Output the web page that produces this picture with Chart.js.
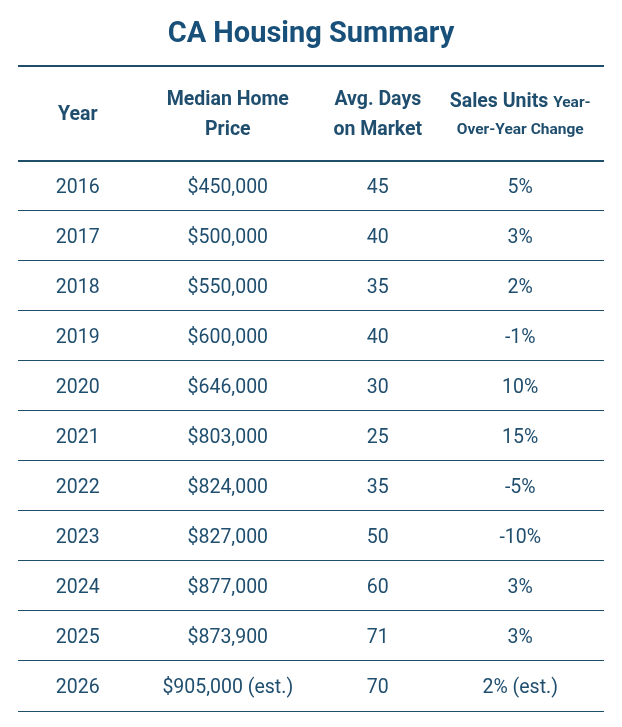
<!DOCTYPE html>
<html>
<head>
<meta charset="utf-8">
<script src="https://cdn.jsdelivr.net/npm/chart.js@4.4.1/dist/chart.umd.min.js"></script>
<style>
  html, body { margin: 0; padding: 0; background: #ffffff; }
  #wrap { width: 622px; height: 727px; }
</style>
</head>
<body>
<div id="wrap"><canvas id="table"></canvas></div>
<script>
// table data
const years = ["2016", "2017", "2018", "2019", "2020", "2021", "2022", "2023", "2024", "2025", "2026"];
const medianPrice = [450000, 500000, 550000, 600000, 646000, 803000, 824000, 827000, 877000, 873900, 905000];
const daysOnMarket = [45, 40, 35, 40, 30, 25, 35, 50, 60, 71, 70];
const salesChange = [5, 3, 2, -1, 10, 15, -5, -10, 3, 3, 2];
const estimated = [false, false, false, false, false, false, false, false, false, false, true];

const headerLabels = [["Year"], ["Median Home", "Price"], ["Avg. Days", "on Market"], ["Sales Units", "Over-Year Change"]];
const columnCenters = [0.102, 0.358, 0.614, 0.857];

const headerSpan = 1.9; // header row is taller than body rows
const TEXT = "#1f4e6e";
const LINE = "#1f4e6b";

const rowCenter = (i) => headerSpan + i + 0.5;
const boundaries = [0, headerSpan].concat(years.map((y, i) => headerSpan + i + 1));

const est = (i) => (estimated[i] ? " (est.)" : "");
const cellText = [
  years.map((y) => y),
  medianPrice.map((v, i) => "$" + v.toLocaleString("en-US") + est(i)),
  daysOnMarket.map((v) => String(v)),
  salesChange.map((v, i) => v + "%" + est(i)),
];

const datasets = cellText.map((col, c) => ({
  label: "col" + c,
  data: col.map((t, r) => ({ x: columnCenters[c], y: rowCenter(r) })),
  pointRadius: 0,
  pointHoverRadius: 0,
}));

const cellLabels = {
  id: "cellLabels",
  afterDatasetsDraw(chart) {
    const ctx = chart.ctx;
    const yScale = chart.scales.y;
    const xScale = chart.scales.x;
    ctx.save();
    ctx.fillStyle = TEXT;
    ctx.textAlign = "center";
    ctx.textBaseline = "middle";

    // body cells
    ctx.font = "19.5px Roboto";
    cellText.forEach((col, c) => {
      const meta = chart.getDatasetMeta(c);
      col.forEach((t, r) => {
        const pt = meta.data[r];
        ctx.fillText(t, pt.x, pt.y + 2);
      });
    });

    // header
    const hy = yScale.getPixelForValue(headerSpan / 2) + 1.5;
    const gap = 15;
    ctx.font = "bold 19.5px Roboto";
    headerLabels.slice(0, 3).forEach((lines, c) => {
      const x = xScale.getPixelForValue(columnCenters[c]);
      if (lines.length === 1) {
        ctx.fillText(lines[0], x, hy);
      } else {
        ctx.fillText(lines[0], x, hy - gap);
        ctx.fillText(lines[1], x, hy + gap);
      }
    });

    // last header: mixed sizes
    const sx = xScale.getPixelForValue(columnCenters[3]);
    const big = "bold 19.5px Roboto";
    const small = "bold 15.5px Roboto";
    const partA = headerLabels[3][0] + " ";
    const partB = "Year-";
    ctx.font = big;
    const wa = ctx.measureText(partA).width;
    ctx.font = small;
    const wb = ctx.measureText(partB).width;
    const left = sx - (wa + wb) / 2;
    ctx.textAlign = "left";
    ctx.textBaseline = "alphabetic";
    ctx.font = big;
    ctx.fillText(partA, left, hy - gap + 7);
    ctx.font = small;
    ctx.fillText(partB, left + wa, hy - gap + 7);
    ctx.textAlign = "center";
    ctx.textBaseline = "middle";
    ctx.fillText(headerLabels[3][1], sx, hy + gap);
    ctx.restore();
  },
};

new Chart(document.getElementById("table"), {
  type: "scatter",
  data: { datasets: datasets },
  options: {
    responsive: true,
    maintainAspectRatio: false,
    animation: false,
    events: [],
    layout: { padding: { left: 18, right: 18, top: 0, bottom: 16 } },
    plugins: {
      legend: { display: false },
      tooltip: { enabled: false },
      title: {
        display: true,
        text: "CA Housing Summary",
        color: "#18507a",
        font: { family: "Roboto", size: 29, weight: "bold" },
        padding: { top: 17, bottom: 14 },
      },
    },
    scales: {
      x: { type: "linear", min: 0, max: 1, display: false },
      y: {
        type: "linear",
        reverse: true,
        min: 0,
        max: headerSpan + years.length,
        afterBuildTicks: (scale) => {
          scale.ticks = boundaries.map((v) => ({ value: v }));
        },
        ticks: { display: false },
        border: { display: false },
        grid: {
          drawTicks: false,
          color: LINE,
          lineWidth: (ctx) => (ctx.index < 2 ? 2 : 1),
        },
      },
    },
  },
  plugins: [cellLabels],
});
</script>
</body>
</html>
